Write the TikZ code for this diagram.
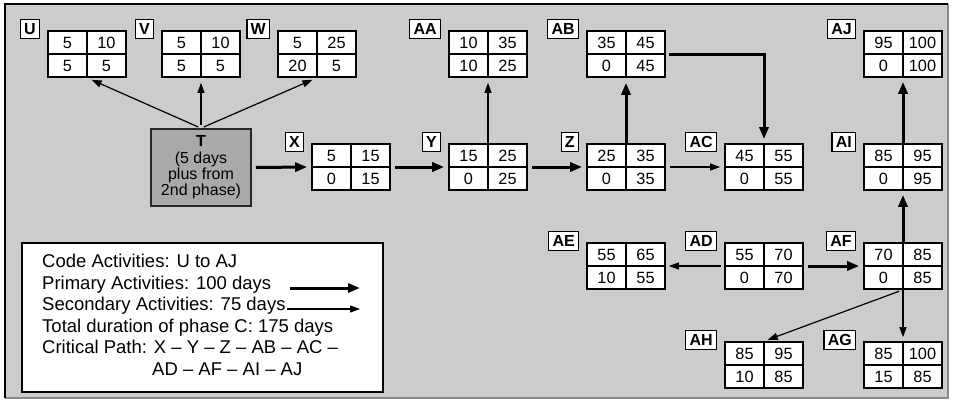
\documentclass[tikz,border=0pt]{standalone}
\usepackage{fontspec}
\setmainfont{Liberation Sans}
\usetikzlibrary{arrows.meta,calc}
\definecolor{bgc}{HTML}{CCCCCC}
\definecolor{tgray}{HTML}{A9A9A9}
\definecolor{framegray}{HTML}{8A8A8A}
\tikzset{
 actnode/.style={draw=black, fill=white, line width=1.6pt, minimum width=78pt, minimum height=46pt, inner sep=0pt},
 cellline/.style={line width=1.6pt},
 num/.style={inner sep=0pt, font=\fontsize{16.3}{18}\selectfont},
 lab/.style={draw=black, fill=white, line width=1.3pt, inner xsep=3.8pt, inner ysep=0pt, minimum height=19pt, font=\fontsize{16}{18}\selectfont\bfseries},
 tbox/.style={draw=black!85, fill=tgray, line width=1.6pt, minimum width=100pt, minimum height=77pt, inner sep=0pt, align=center, font=\fontsize{16}{16.3}\selectfont},
 legbox/.style={draw=black, fill=white, line width=1.8pt, minimum width=361pt, minimum height=149pt, inner sep=0pt},
 legtxt/.style={inner sep=0pt, anchor=base west, font=\fontsize{18.5}{21.5}\selectfont},
 secarrow/.style={line width=1.2pt, -{Triangle[length=10pt,width=7pt]}},
 primarrow/.style={line width=3pt, -{Triangle[length=12pt,width=9pt]}},
}
\newcommand\actbox[7]{%
 \node[actnode] (#1) at (#2,#3) {};
 \draw[cellline] (#1.north) -- (#1.south);
 \draw[cellline] (#1.west) -- (#1.east);
 \node[num] at ([xshift=-19.5pt,yshift=11.5pt]#1.center) {#4};
 \node[num] at ([xshift=19.5pt,yshift=11.5pt]#1.center) {#5};
 \node[num] at ([xshift=-19.5pt,yshift=-11.5pt]#1.center) {#6};
 \node[num] at ([xshift=19.5pt,yshift=-11.5pt]#1.center) {#7};
 \node[lab, anchor=north east] (#1lab) at ([xshift=-7pt,yshift=11.5pt]#1.north west) {#1};
}
\begin{document}
\begin{tikzpicture}[x=1pt,y=-1pt]
\useasboundingbox (0,0) rectangle (953,402);
\fill[white] (0,0) rectangle (953,402);
\fill[bgc] (5,4) rectangle (948,398);
\draw[framegray, line width=1.5pt] (948,4) -- (948,398) -- (5,398);
\draw[black, line width=2.2pt] (5,398) -- (5,4) -- (948,4);

% boxes
\actbox{U}{87}{54}{5}{10}{5}{5}
\actbox{V}{201}{54}{5}{10}{5}{5}
\actbox{W}{317}{54}{5}{25}{20}{5}
\actbox{AA}{488}{54}{10}{35}{10}{25}
\actbox{AB}{626}{54}{35}{45}{0}{45}
\actbox{AJ}{903}{54}{95}{100}{0}{100}
\actbox{X}{351}{167}{5}{15}{0}{15}
\actbox{Y}{488}{167}{15}{25}{0}{25}
\actbox{Z}{626}{167}{25}{35}{0}{35}
\actbox{AC}{764}{167}{45}{55}{0}{55}
\actbox{AI}{903}{167}{85}{95}{0}{95}
\actbox{AE}{626}{266}{55}{65}{10}{55}
\actbox{AD}{764}{266}{55}{70}{0}{70}
\actbox{AF}{903}{266}{70}{85}{0}{85}
\actbox{AH}{764}{365}{85}{95}{10}{85}
\actbox{AG}{903}{365}{85}{100}{15}{85}

\node[tbox] (T) at (201,167.5) {\textbf{T}\\(5 days\\plus from\\2nd phase)};

% connectors
\draw[secarrow, shorten <=3pt, shorten >=5pt] (T.north) -- (U.south);
\draw[secarrow, shorten <=3pt, shorten >=5pt] (T.north) -- (V.south);
\draw[secarrow, shorten <=3pt, shorten >=5pt] (T.north) -- (W.south);
\draw[primarrow, shorten <=4pt, shorten >=4pt] (T.east) -- (X.west);
\draw[primarrow, shorten <=4pt, shorten >=4pt] (X.east) -- (Y.west);
\draw[secarrow, shorten >=5pt] (Y.north) -- (AA.south);
\draw[primarrow, shorten <=4pt, shorten >=4pt] (Y.east) -- (Z.west);
\draw[primarrow, shorten >=5pt] (Z.north) -- (AB.south);
\draw[secarrow, shorten <=4pt, shorten >=4pt] (Z.east) -- (AC.west);
\draw[primarrow, shorten <=3pt, shorten >=4pt] (AB.east) -| (AC.north);
\draw[secarrow, shorten <=3pt, shorten >=3pt] (AD.west) -- (AE.east);
\draw[primarrow, shorten <=4pt, shorten >=4pt] (AD.east) -- (AF.west);
\draw[primarrow, shorten >=4pt] (AF.north) -- (AI.south);
\draw[primarrow, shorten >=4pt] (AI.north) -- (AJ.south);
\draw[secarrow, shorten >=4pt] (AF.south) -- (AG.north);
\draw[secarrow, shorten <=4pt, shorten >=4pt] (AF.south) -- (AH.north);

% legend
\node[legbox] (legend) at (202.5,317.5) {};
\node[legtxt] (l1) at (42,267.5) {Code Activities: U to AJ};
\node[legtxt] (l2) at (42,289) {Primary Activities: 100 days};
\node[legtxt] (l3) at (42,310.5) {Secondary Activities: 75 days};
\node[legtxt] (l4) at (42,332) {Total duration of phase C: 175 days};
\node[legtxt] (l5) at (42,353.5) {Critical Path: X – Y – Z – AB – AC –};
\node[legtxt] (l6) at (152,375) {AD – AF – AI – AJ};
\coordinate (pa) at (290,288);
\coordinate (pb) at (360,288);
\coordinate (sa) at (287,309);
\coordinate (sb) at (360,309);
\draw[primarrow] (pa) -- (pb);
\draw[secarrow] (sa) -- (sb);
\end{tikzpicture}
\end{document}
